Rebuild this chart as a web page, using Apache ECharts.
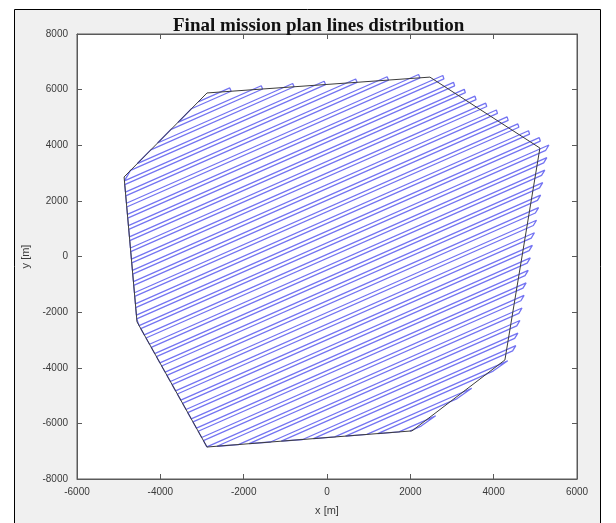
<!DOCTYPE html>
<html>
<head>
<meta charset="utf-8">
<script src="https://cdn.jsdelivr.net/npm/echarts@6/dist/echarts.min.js"></script>
<style>
  html, body { margin: 0; padding: 0; background: #ffffff; }
  #chart { width: 616px; height: 523px; }
</style>
</head>
<body>
<div id="chart"></div>
<script>
// Survey area boundary (metres), closed back to the first vertex
const areaBoundary = [
  [-2880, 5880], [2470, 6450], [5110, 3900], [4270, -3720],
  [2040, -6270], [-2880, -6850], [-4560, -2350], [-4870, 2860],
  [-2880, 5880]
];

// Flight path waypoints (metres): for each pass the outbound start,
// the turn apex beyond the boundary, the return start and the return end
const missionWaypoints = [
  [-3091, 5560], [-2333, 6060], [-2301, 5942], [-3254, 5313],
  [-3578, 4820], [-1578, 6140], [-1545, 6022], [-3741, 4573],
  [-4066, 4081], [-823, 6221], [-790, 6103], [-4229, 3833],
  [-4553, 3341], [-68, 6301], [-35, 6183], [-4716, 3094],
  [-4862, 2719], [688, 6382], [721, 6264], [-4854, 2585],
  [-4838, 2317], [1443, 6462], [1476, 6344], [-4830, 2183],
  [-4814, 1915], [2198, 6543], [2231, 6425], [-4806, 1780],
  [-4790, 1513], [2780, 6508], [2806, 6386], [-4782, 1378],
  [-4766, 1111], [3037, 6260], [3063, 6138], [-4758, 976],
  [-4742, 708], [3294, 6012], [3320, 5889], [-4734, 574],
  [-4718, 306], [3551, 5763], [3577, 5641], [-4710, 172],
  [-4694, -96], [3808, 5515], [3834, 5393], [-4686, -231],
  [-4670, -498], [4065, 5267], [4091, 5145], [-4662, -633],
  [-4646, -901], [4322, 5019], [4348, 4896], [-4638, -1035],
  [-4622, -1303], [4579, 4770], [4605, 4648], [-4614, -1437],
  [-4598, -1705], [4836, 4522], [4862, 4400], [-4591, -1839],
  [-4574, -2107], [5094, 4274], [5119, 4151], [-4567, -2242],
  [-4510, -2483], [5326, 4009], [5250, 3819], [-4469, -2595],
  [-4385, -2818], [5276, 3558], [5200, 3368], [-4343, -2931],
  [-4260, -3154], [5227, 3107], [5150, 2917], [-4218, -3266],
  [-4135, -3489], [5177, 2657], [5101, 2466], [-4093, -3601],
  [-4010, -3824], [5127, 2206], [5051, 2015], [-3968, -3937],
  [-3884, -4160], [5078, 1755], [5001, 1565], [-3842, -4272],
  [-3759, -4495], [5028, 1304], [4952, 1114], [-3717, -4607],
  [-3634, -4830], [4978, 853], [4902, 663], [-3592, -4943],
  [-3509, -5166], [4929, 403], [4852, 212], [-3467, -5278],
  [-3384, -5501], [4879, -48], [4803, -239], [-3342, -5613],
  [-3258, -5837], [4829, -499], [4753, -689], [-3216, -5949],
  [-3133, -6172], [4779, -950], [4703, -1140], [-3091, -6284],
  [-3008, -6507], [4730, -1401], [4653, -1591], [-2966, -6620],
  [-2883, -6843], [4680, -1851], [4604, -2042], [-2639, -6822],
  [-2126, -6761], [4630, -2302], [4554, -2493], [-1868, -6731],
  [-1355, -6670], [4581, -2753], [4504, -2943], [-1097, -6640],
  [-584, -6579], [4531, -3204], [4455, -3394], [-326, -6549],
  [187, -6488], [4337, -3750], [3988, -4120], [446, -6458],
  [958, -6398], [3473, -4738], [3123, -5108], [1217, -6367],
  [1729, -6307], [2608, -5727], [2259, -6097], [1988, -6276]
];

// Axis ranges and tick step (metres)
const xRange = [-6000, 6000];
const yRange = [-8000, 8000];
const tickStep = 2000;

const chartTitle = 'Final mission plan lines distribution';
const xName = 'x [m]';
const yName = 'y [m]';

const chart = echarts.init(document.getElementById('chart'), null, { renderer: 'canvas' });

const sansFamily = 'Liberation Sans, Arial, sans-serif';
const labelStyle = { fontFamily: sansFamily, fontSize: 10, color: '#3a3a3a', formatter: v => String(v) };
const boxColor = '#5a5a5a';

function frameAxis(base) {
  return Object.assign({
    type: 'value',
    splitLine: { show: false },
    axisLine: { show: true, onZero: false, lineStyle: { color: boxColor, width: 1 } },
    axisTick: { show: true, inside: true, length: 5, lineStyle: { color: boxColor } }
  }, base);
}

chart.setOption({
  animation: false,
  backgroundColor: 'transparent',
  graphic: [{
    type: 'rect',
    z: -10,
    silent: true,
    shape: { x: 14.5, y: 9.5, width: 586, height: 530 },
    style: { fill: '#f0f0f0', stroke: '#000000', lineWidth: 1 }
  }],
  title: {
    text: chartTitle,
    left: 173,
    top: 17,
    padding: 0,
    textStyle: {
      fontFamily: 'Liberation Serif, Times New Roman, serif',
      fontWeight: 'bold',
      fontSize: 19,
      color: '#111111'
    }
  },
  grid: {
    left: 77, right: 39, top: 34, bottom: 44,
    show: true, backgroundColor: '#ffffff', borderColor: boxColor, borderWidth: 1
  },
  xAxis: [
    frameAxis({
      position: 'bottom',
      min: xRange[0], max: xRange[1], interval: tickStep,
      axisLabel: Object.assign({ margin: 8 }, labelStyle),
      name: xName, nameLocation: 'middle', nameGap: 26,
      nameTextStyle: { fontFamily: sansFamily, fontSize: 11, color: '#3a3a3a' }
    }),
    frameAxis({
      position: 'top',
      min: xRange[0], max: xRange[1], interval: tickStep,
      axisLabel: { show: false }
    })
  ],
  yAxis: [
    frameAxis({
      position: 'left',
      min: yRange[0], max: yRange[1], interval: tickStep,
      axisLabel: Object.assign({ margin: 9 }, labelStyle),
      name: yName, nameLocation: 'middle', nameGap: 29, nameRotate: 90,
      nameTextStyle: { fontFamily: sansFamily, fontSize: 11, color: '#3a3a3a' }
    }),
    frameAxis({
      position: 'right',
      min: yRange[0], max: yRange[1], interval: tickStep,
      axisLabel: { show: false }
    })
  ],
  series: [
    {
      name: 'Mission path',
      type: 'line',
      xAxisIndex: 0, yAxisIndex: 0,
      data: missionWaypoints,
      showSymbol: false,
      symbol: 'none',
      lineStyle: { color: '#7474f2', width: 1.3 },
      z: 2
    },
    {
      name: 'Area boundary',
      type: 'line',
      xAxisIndex: 0, yAxisIndex: 0,
      data: areaBoundary,
      showSymbol: false,
      symbol: 'none',
      lineStyle: { color: '#3c3c3c', width: 1 },
      z: 3
    }
  ]
});
</script>
</body>
</html>
